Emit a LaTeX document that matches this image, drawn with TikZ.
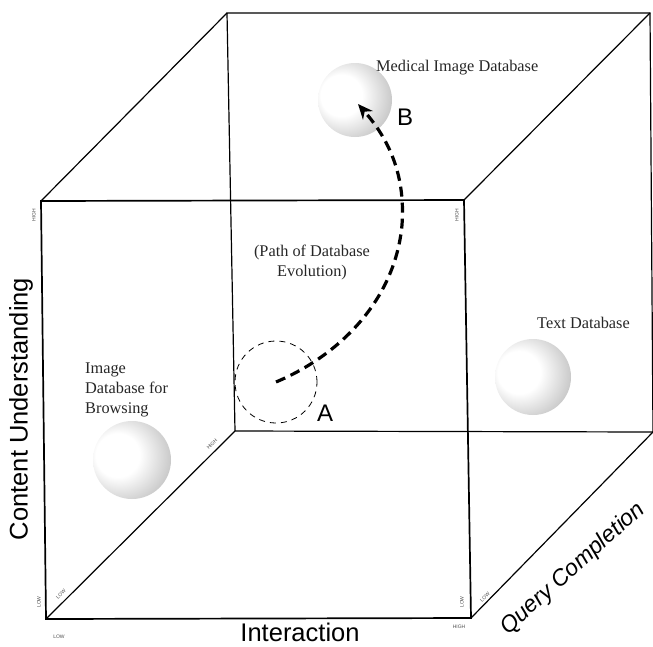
\documentclass[tikz,border=0pt]{standalone}
\usepackage{fontspec}
\setmainfont{Liberation Serif}
\setsansfont{Liberation Sans}
\usetikzlibrary{arrows.meta}
\pgfdeclareradialshading{sphshade}{\pgfpoint{-12bp}{4bp}}{color(0bp)=(white); color(14bp)=(white); color(30bp)=(black!20); color(42bp)=(black!40); color(52bp)=(black!70); color(60bp)=(black!90)}
\begin{document}
\begin{tikzpicture}[x=1pt,y=-1pt,
  front/.style={line width=1.7pt},
  edge/.style={line width=1.2pt},
  sphere/.style={circle, inner sep=0pt, shading=sphshade},
  lbl/.style={font=\fontsize{16.3}{20}\selectfont, text=black!85, inner sep=0pt},
  axislbl/.style={font=\sffamily\fontsize{25.5}{25.5}\selectfont, inner sep=0pt},
  letter/.style={font=\sffamily\fontsize{24}{24}\selectfont, inner sep=0pt},
  tick/.style={font=\sffamily\fontsize{5}{5}\selectfont, text=black!70, inner sep=0pt},
  evol/.style={line width=3.2pt, dash pattern=on 10pt off 6pt, -{Stealth[length=15pt,width=13pt]}}
]
\useasboundingbox (0,0) rectangle (653,646);
% cube corners
\coordinate (FTL) at (41,201);
\coordinate (FTR) at (464,200);
\coordinate (FBR) at (471,618);
\coordinate (FBL) at (46,619);
\coordinate (BTL) at (227,13);
\coordinate (BTR) at (650,13);
\coordinate (BBR) at (653,432);
\coordinate (BBL) at (235,431);
% back face and depth edges
\draw[edge] (BTL) -- (BTR) -- (BBR) -- (BBL) -- cycle;
\draw[edge] (FTL) -- (BTL);
\draw[edge] (FTR) -- (BTR);
\draw[edge] (FBL) -- (BBL);
\draw[edge] (FBR) -- (BBR);
% front face
\draw[front] (FTL) -- (FTR) -- (FBR) -- (FBL) -- cycle;
% tick labels
\node[tick, rotate=90] (t1) at (34,215) {HIGH};
\node[tick, rotate=90] (t2) at (39,602) {LOW};
\node[tick] (t3) at (59,637) {LOW};
\node[tick, rotate=45] (t4) at (61,594) {LOW};
\node[tick, rotate=45] (t5) at (212,444) {HIGH};
\node[tick] (t6) at (459,627) {HIGH};
\node[tick, rotate=90] (t7) at (462,602) {LOW};
\node[tick, rotate=45] (t8) at (485,597) {LOW};
\node[tick, rotate=90] (t9) at (457,215) {HIGH};
% spheres
\node[sphere, minimum size=74pt] (med) at (355,100) {};
\node[sphere, minimum size=76pt] (txt) at (533,377) {};
\node[sphere, minimum size=78pt] (img) at (132,460) {};
% labels
\node[lbl, anchor=west] (medtxt) at (376,68) {Medical Image Database};
\node[lbl, anchor=west] (texttxt) at (537,323) {Text Database};
\node[lbl, anchor=west, align=left] (imgtxt) at (85,390) {Image\\Database for\\Browsing};
\node[lbl, align=center] (pathtxt) at (312,262) {(Path of Database\\Evolution)};
\node[letter] (Blbl) at (405,117) {B};
\node[letter] (Albl) at (325,413) {A};
% axis labels
\node[axislbl, rotate=90] (cu) at (21,409) {Content Understanding};
\node[axislbl] (ia) at (300,632) {Interaction};
\node[axislbl, font=\sffamily\itshape\fontsize{23}{23}\selectfont, rotate=42] (qc) at (573,569) {Query Completion};
% start region A and evolution path
\node[circle, draw, line width=0.8pt, dash pattern=on 6pt off 5pt, minimum size=82pt, inner sep=0pt] (A) at (276,382) {};
\coordinate (tip) at (358,104);
\draw[evol] (A.center) .. controls (340,355) and (395,300) .. (402,225) .. controls (406,170) and (385,135) .. (tip);
\end{tikzpicture}
\end{document}
